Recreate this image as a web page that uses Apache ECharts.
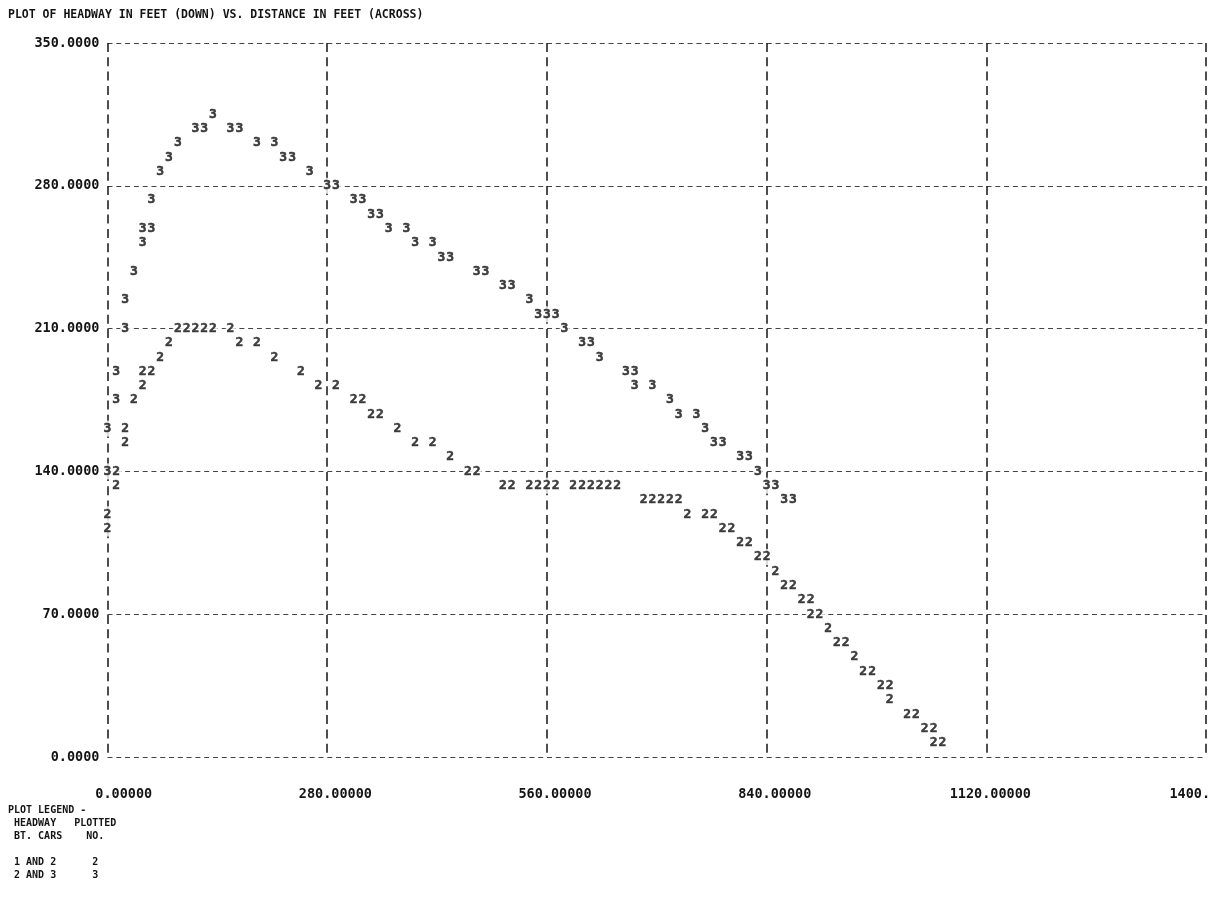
<!DOCTYPE html>
<html><head><meta charset="utf-8">
<script src="https://cdn.jsdelivr.net/npm/echarts@6/dist/echarts.min.js"></script>
<style>html,body{margin:0;padding:0;background:#fff;overflow:hidden}#c{width:1210px;height:900px}</style>
</head><body><div id="c"></div>
<script>
const chartTitle = 'PLOT OF HEADWAY IN FEET (DOWN) VS. DISTANCE IN FEET (ACROSS)';
const xTicks = [0, 280, 560, 840, 1120, 1400];
const xTickLabels = ['0.00000', '280.00000', '560.00000', '840.00000', '1120.00000', '1400.'];
const yTicks = [0, 70, 140, 210, 280, 350];
const yTickLabels = ['0.0000', '70.0000', '140.0000', '210.0000', '280.0000', '350.0000'];
const legendTitle = 'PLOT LEGEND -';
const legendHead1 = ['HEADWAY', 'PLOTTED'];
const legendHead2 = ['BT. CARS', 'NO.'];
const legendCars = ['1 AND 2', '2 AND 3'];
const legendSymbols = ['2', '3'];

// headway between cars 1 and 2 (plotted as "2"): [distance ft, headway ft]
const headway12 = [
  [89.6,210],[100.8,210],[112,210],[123.2,210],[134.4,210],[156.8,210],
  [78.4,203],[168,203],[190.4,203],
  [67.2,196],[212.8,196],
  [44.8,189],[56,189],[246.4,189],
  [44.8,182],[268.8,182],[291.2,182],
  [33.6,175],[313.6,175],[324.8,175],
  [336,168],[347.2,168],
  [22.4,161],[369.6,161],
  [22.4,154],[392,154],[414.4,154],
  [436.8,147],
  [11.2,140],[459.2,140],[470.4,140],
  [11.2,133],[504,133],[515.2,133],[537.6,133],[548.8,133],[560,133],[571.2,133],[593.6,133],[604.8,133],[616,133],[627.2,133],[638.4,133],[649.6,133],
  [683.2,126],[694.4,126],[705.6,126],[716.8,126],[728,126],
  [0,119],[739.2,119],[761.6,119],[772.8,119],
  [0,112],[784,112],[795.2,112],
  [806.4,105],[817.6,105],
  [828.8,98],[840,98],
  [851.2,91],
  [862.4,84],[873.6,84],
  [884.8,77],[896,77],
  [896,70],[907.2,70],
  [918.4,63],
  [929.6,56],[940.8,56],
  [952,49],
  [963.2,42],[974.4,42],
  [985.6,35],[996.8,35],
  [996.8,28],
  [1019.2,21],[1030.4,21],
  [1041.6,14],[1052.8,14],
  [1052.8,7],[1064,7]
];

// headway between cars 2 and 3 (plotted as "3")
const headway23 = [
  [134.4,315],
  [112,308],[123.2,308],[156.8,308],[168,308],
  [89.6,301],[190.4,301],[212.8,301],
  [78.4,294],[224,294],[235.2,294],
  [67.2,287],[257.6,287],
  [280,280],[291.2,280],
  [56,273],[313.6,273],[324.8,273],
  [336,266],[347.2,266],
  [44.8,259],[56,259],[358.4,259],[380.8,259],
  [44.8,252],[392,252],[414.4,252],
  [425.6,245],[436.8,245],
  [33.6,238],[470.4,238],[481.6,238],
  [504,231],[515.2,231],
  [22.4,224],[537.6,224],
  [548.8,217],[560,217],[571.2,217],
  [22.4,210],[582.4,210],
  [604.8,203],[616,203],
  [627.2,196],
  [11.2,189],[660.8,189],[672,189],
  [672,182],[694.4,182],
  [11.2,175],[716.8,175],
  [728,168],[750.4,168],
  [0,161],[761.6,161],
  [772.8,154],[784,154],
  [806.4,147],[817.6,147],
  [0,140],[828.8,140],
  [840,133],[851.2,133],
  [862.4,126],[873.6,126]
];

const MONO = 'DejaVu Sans Mono';
const INK = '#141414';

function charSeries(name, data, ch) {
  return {
    type: 'scatter', name: name, data: data, silent: true,
    symbol: 'rect', symbolSize: 1,
    itemStyle: { color: 'rgba(0,0,0,0)' },
    label: {
      show: true, position: 'inside', formatter: ch, offset: [2, 0],
      color: INK, fontFamily: MONO, fontWeight: 'bold', fontSize: 13,
      textBorderColor: INK, textBorderWidth: 0.5,
      backgroundColor: '#fff', padding: [2, 1, 1, 1]
    },
    labelLayout: { hideOverlap: false },
    emphasis: { disabled: true }
  };
}

const legendLines = [
  legendTitle,
  ' ' + legendHead1[0].padEnd(10) + legendHead1[1],
  ' ' + legendHead2[0].padEnd(12) + legendHead2[1],
  '',
  ' ' + legendCars[0].padEnd(13) + legendSymbols[0],
  ' ' + legendCars[1].padEnd(13) + legendSymbols[1]
];

function xLabel(v) {
  const s = xTickLabels[xTicks.indexOf(v)] || '';
  const k = s.indexOf('.');
  // pad so the decimal point sits at the centre of the label (monospace font)
  return s.slice(0, k).padStart(5, ' ') + '.' + s.slice(k + 1).padEnd(5, ' ');
}

const chart = echarts.init(document.getElementById('c'), null, { renderer: 'canvas' });
chart.setOption({
  animation: false,
  backgroundColor: '#fff',
  grid: { left: 107.5, right: 4, top: 43, bottom: 143, containLabel: false, outerBoundsMode: 'none' },
  xAxis: {
    type: 'value', min: 0, max: 1400, interval: 280,
    axisLine: { show: false }, axisTick: { show: false },
    splitLine: { show: true, showMinLine: true, showMaxLine: true,
      lineStyle: { color: '#222', width: 1.6, type: [9, 5.3] } },
    axisLabel: {
      show: true, showMinLabel: true, showMaxLabel: true, margin: 30,
      align: 'center', hideOverlap: false,
      fontFamily: MONO, fontWeight: 'bold', fontSize: 13.5, color: INK,
      formatter: xLabel
    }
  },
  yAxis: {
    type: 'value', min: 0, max: 350, interval: 70,
    axisLine: { show: false }, axisTick: { show: false },
    splitLine: { show: true, showMinLine: true, showMaxLine: true,
      lineStyle: { color: '#444', width: 1, type: [5, 3.79] } },
    axisLabel: {
      show: true, margin: 8, fontFamily: MONO, fontWeight: 'bold', fontSize: 13.5, color: INK,
      formatter: function (v) { return yTickLabels[yTicks.indexOf(v)] || ''; }
    }
  },
  graphic: [
    { type: 'text', left: 8, top: 9,
      style: { text: chartTitle, fontFamily: MONO, fontWeight: 'bold', fontSize: 11.5, fill: INK } },
    { type: 'text', left: 8, top: 804,
      style: { text: legendLines.join('\n'), fontFamily: MONO, fontWeight: 'bold', fontSize: 10, lineHeight: 13, fill: INK } }
  ],
  series: [
    charSeries('1 AND 2', headway12, '2'),
    charSeries('2 AND 3', headway23, '3')
  ]
});
</script>
</body></html>
